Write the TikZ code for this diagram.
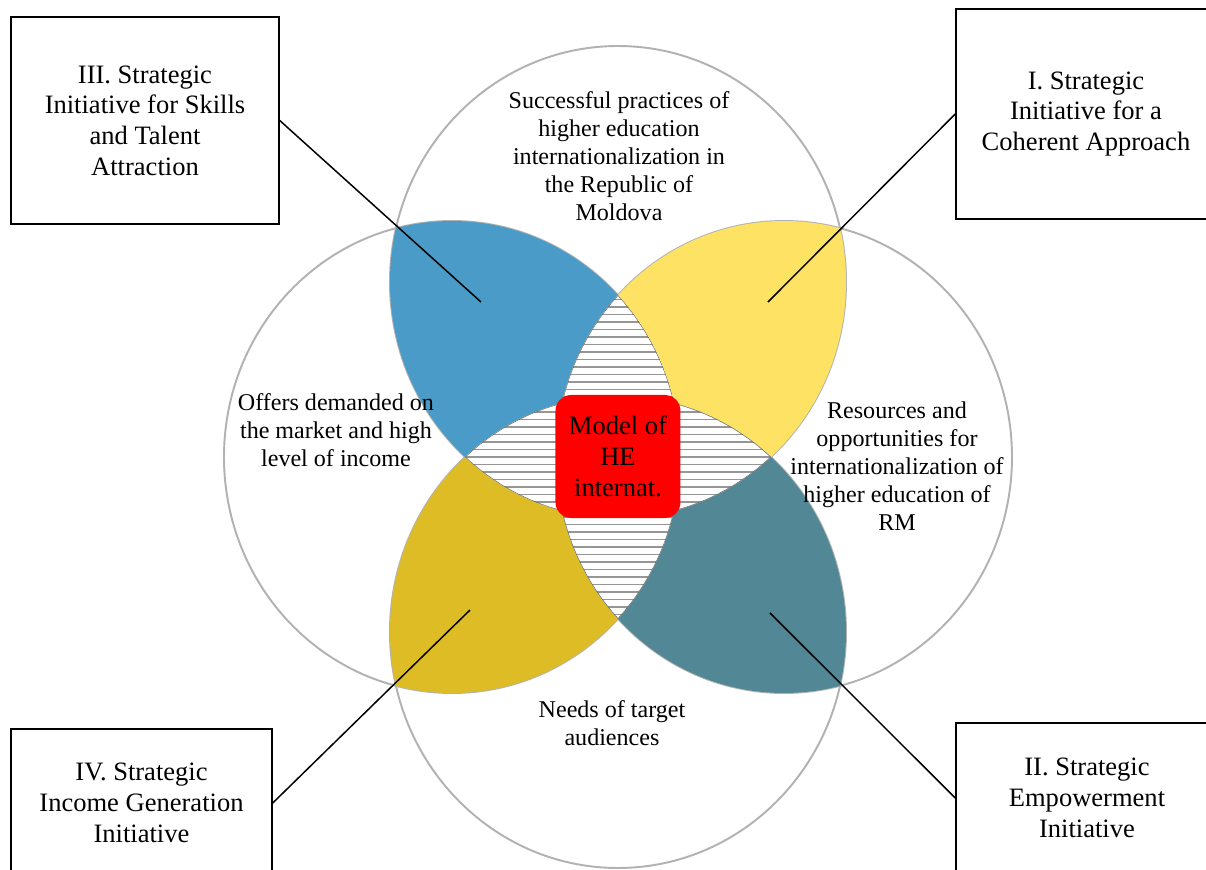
\documentclass[tikz,border=0pt]{standalone}
\usepackage{fontspec}
\setmainfont{Liberation Serif}
\usetikzlibrary{positioning}
\definecolor{skillblue}{RGB}{74,155,199}
\definecolor{coherentyellow}{RGB}{253,226,100}
\definecolor{incomegold}{RGB}{222,188,38}
\definecolor{empowerteal}{RGB}{82,136,150}
\definecolor{modelred}{RGB}{255,0,0}
\definecolor{ringgray}{RGB}{178,178,178}
\definecolor{hatchgray}{RGB}{150,150,150}
\definecolor{lensgray}{RGB}{95,95,95}

% the four rings
\newcommand{\ellT}{(0,3.5) ellipse [x radius=4.56, y radius=4.72]}
\newcommand{\ellB}{(0,-3.5) ellipse [x radius=4.56, y radius=4.72]}
\newcommand{\ellL}{(-3.32,0) ellipse [x radius=4.56, y radius=4.72]}
\newcommand{\ellR}{(3.32,0) ellipse [x radius=4.56, y radius=4.72]}

\begin{document}
\begin{tikzpicture}[
    % Styles definition
    ring/.style={draw=ringgray, line width=1.1pt},
    hatchline/.style={draw=hatchgray, line width=1.1pt},
    lensedge/.style={draw=lensgray, line width=0.5pt},
    ringtext/.style={align=center, inner sep=0pt, font=\fontsize{13.7}{15.9}\selectfont},
    initbox/.style={draw, line width=0.85pt, align=center, inner sep=0pt, font=\fontsize{15.1}{17.5}\selectfont},
    model/.style={fill=modelred, rounded corners=9pt, minimum width=2.5cm, minimum height=2.46cm, align=center, inner sep=0pt, font=\fontsize{15.1}{17.5}\selectfont},
    leader/.style={draw=black, line width=0.85pt}
]

\useasboundingbox (-12.36,-8.26) rectangle (11.76,9.14);
\fill[white] (-12.36,-8.26) rectangle (11.76,9.14);

% 1. Rings
\draw[ring] \ellT;
\draw[ring] \ellB;
\draw[ring] \ellL;
\draw[ring] \ellR;

% 2. Coloured sectors
\begin{scope}
    \clip \ellT;
    \fill[skillblue] \ellL;
    \fill[coherentyellow] \ellR;
\end{scope}
\begin{scope}
    \clip \ellB;
    \fill[incomegold] \ellL;
    \fill[empowerteal] \ellR;
\end{scope}

% 3. Hatched lenses
\begin{scope}
    \clip \ellT;
    \clip \ellB;
    \fill[white] (-3.5,-3.5) rectangle (3.5,3.5);
    \foreach \y in {-3.3,-3.15,...,3.31}
        \draw[hatchline] (-3.5,\y) -- (3.5,\y);
    \draw[lensedge] \ellT;
    \draw[lensedge] \ellB;
\end{scope}
\begin{scope}
    \clip \ellL;
    \clip \ellR;
    \fill[white] (-3.5,-3.5) rectangle (3.5,3.5);
    \foreach \y in {-3.3,-3.15,...,3.31}
        \draw[hatchline] (-3.5,\y) -- (3.5,\y);
    \draw[lensedge] \ellL;
    \draw[lensedge] \ellR;
\end{scope}

% 4. Centre
\node[model] (model) at (0,0.01) {Model of\\HE\\internat.};

% 5. Ring labels
\node[ringtext] (practices) at (0.02,6.02) {Successful practices of\\higher education\\internationalization in\\the Republic of\\Moldova};
\node[ringtext] (offers) at (-5.64,0.54) {Offers demanded on\\the market and high\\level of income};
\node[ringtext] (resources) at (5.58,-0.18) {Resources and\\opportunities for\\internationalization of\\higher education of\\RM};
\node[ringtext] (needs) at (-0.12,-5.32) {Needs of target\\audiences};

% 6. Initiative boxes
\node[initbox, minimum width=5.36cm, minimum height=4.14cm] (skills) at (-9.46,6.73) {III. Strategic\\Initiative for Skills\\and Talent\\Attraction};
\node[initbox, minimum width=5.2cm, minimum height=4.2cm] (coherent) at (9.36,6.86) {I. Strategic\\Initiative for a\\Coherent Approach};
\node[initbox, minimum width=5.22cm, minimum height=2.96cm] (income) at (-9.53,-6.92) {IV. Strategic\\Income Generation\\Initiative};
\node[initbox, minimum width=5.24cm, minimum height=3.0cm] (empower) at (9.38,-6.82) {II. Strategic\\Empowerment\\Initiative};

% 7. Leader lines
\coordinate (skills_tip) at (-2.74,3.10);
\coordinate (coherent_tip) at (3.0,3.10);
\coordinate (income_tip) at (-2.96,-3.06);
\coordinate (empower_tip) at (3.04,-3.12);
\draw[leader] (skills.east) -- (skills_tip);
\draw[leader] (coherent.west) -- (coherent_tip);
\draw[leader] (income.east) -- (income_tip);
\draw[leader] (empower.west) -- (empower_tip);

\end{tikzpicture}
\end{document}
